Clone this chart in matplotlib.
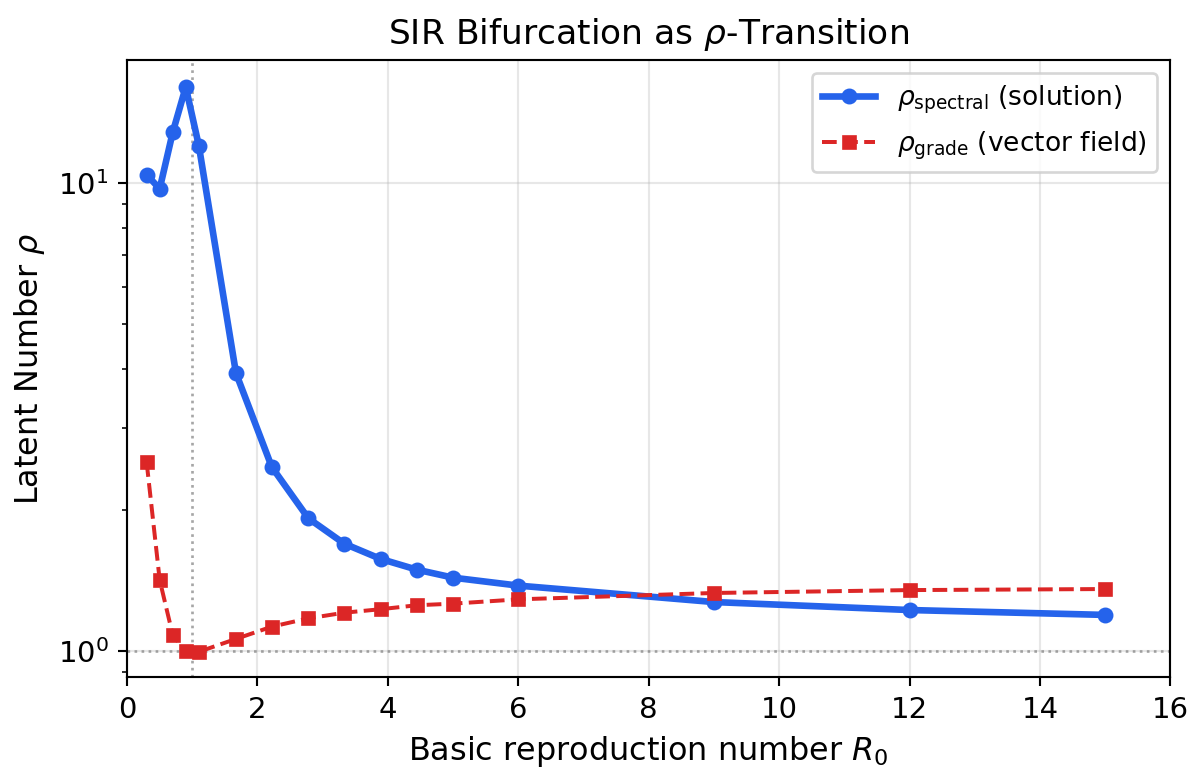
import matplotlib
matplotlib.use("Agg")
import matplotlib.pyplot as plt

R0 = [0.3, 0.5, 0.7, 0.9, 1.1, 1.67, 2.22, 2.78, 3.33, 3.89, 4.44, 5.0, 6.0, 9.0, 12.0, 15.0]
rho_spectral = [10.4, 9.7, 12.8, 16.0, 12.0, 3.92, 2.47, 1.92, 1.695, 1.572, 1.492, 1.434, 1.379, 1.272, 1.223, 1.194]
rho_grade = [2.53, 1.418, 1.082, 0.998, 0.996, 1.061, 1.127, 1.174, 1.207, 1.228, 1.252, 1.262, 1.289, 1.33, 1.349, 1.356]

DPI = 191
fig = plt.figure(figsize=(1194.3 / DPI, 774.3 / DPI), dpi=DPI)
ax = fig.add_axes([0.1064, 0.1253, 0.8736, 0.7972])

ax.plot(R0, rho_spectral, '-o', color='#2563eb', lw=2.5, ms=5,
        label=r'$\rho_{\mathrm{spectral}}$ (solution)', zorder=3)
ax.plot(R0, rho_grade, '--s', color='#dc2626', lw=1.5, ms=4.5,
        label=r'$\rho_{\mathrm{grade}}$ (vector field)', zorder=3)
ax.axvline(1.0, color='gray', ls=':', lw=1, alpha=0.7)
ax.axhline(1.0, color='gray', ls=':', lw=1, alpha=0.7)

ax.set_yscale('log')
ax.set_xlim(0, 16)
ax.set_ylim(0.88, 18.3)
ax.grid(True, which='major', alpha=0.3)
ax.tick_params(labelsize=11)
ax.set_xlabel(r'Basic reproduction number $R_0$', fontsize=12)
ax.set_ylabel(r'Latent Number $\rho$', fontsize=12)
ax.set_title(r'SIR Bifurcation as $\rho$-Transition', fontsize=13)
ax.legend(loc='upper right', fontsize=10)

fig.savefig('out.png', dpi=DPI)
